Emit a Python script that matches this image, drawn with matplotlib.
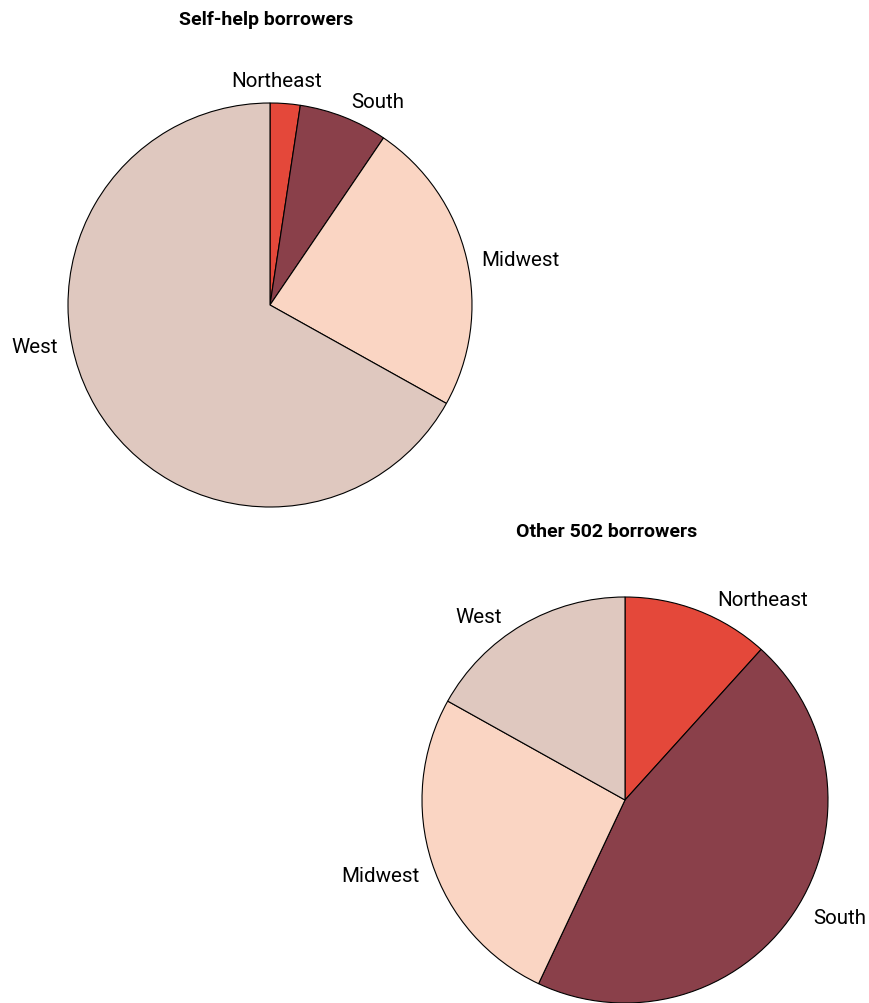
import numpy as np
import matplotlib
matplotlib.use('Agg')
import matplotlib.pyplot as plt

plt.rcParams['font.family'] = ['Roboto', 'DejaVu Sans']

regions = ['Northeast', 'South', 'Midwest', 'West']
colors = ['#e4483a', '#8a404a', '#fad5c3', '#dfc8bf']

self_help = [2.4, 7.1, 23.6, 66.9]
other_502 = [11.7, 45.3, 26.1, 16.9]

# label spots (radius units) and alignment
pos_top = [(0.035, 1.109, 'center'), (0.401, 1.005, 'left'), (1.045, 0.223, 'left'), (-1.05, -0.203, 'right')]
pos_bot = [(0.453, 0.990, 'left'), (0.926, -0.581, 'left'), (-1.010, -0.374, 'right'), (-0.606, 0.906, 'right')]

fig = plt.figure(figsize=(8.7, 10.04), dpi=100)

def draw_pie(rect, vals, pos, title, title_xy):
    ax = fig.add_axes(rect)
    w, t = ax.pie(vals, labels=regions, colors=colors, startangle=90, counterclock=False,
                  labeldistance=1.1, wedgeprops=dict(edgecolor='black', linewidth=0.8),
                  textprops=dict(fontsize=14.8))
    ax.set_xlim(-1, 1)
    ax.set_ylim(-1, 1)
    ax.set_aspect('equal')
    for txt, (x, y, ha) in zip(t, pos):
        txt.set_position((x, y))
        txt.set_ha(ha)
        txt.set_va('center')
    fig.text(title_xy[0], title_xy[1], title, ha='center', va='center',
             fontsize=14, fontweight='bold')
    return ax

draw_pie([68/870, 496/1004, 404/870, 404/1004], self_help, pos_top,
         'Self-help borrowers', (266/870, 1 - 20/1004))
draw_pie([422/870, 0, 406/870, 406/1004], other_502, pos_bot,
         'Other 502 borrowers', (607/870, 1 - 532/1004))

fig.savefig('out.png', dpi=100)
